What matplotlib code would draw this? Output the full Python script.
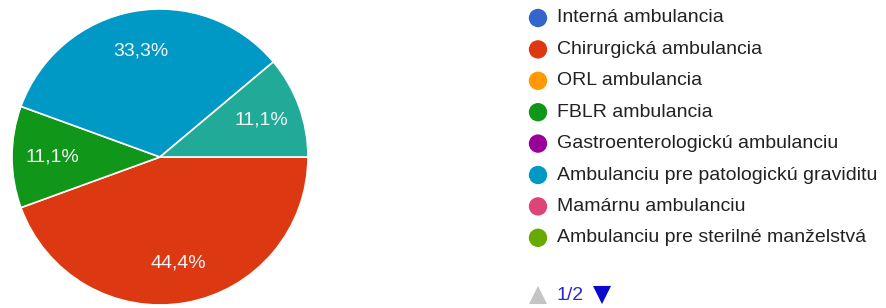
import matplotlib
matplotlib.use("Agg")
import matplotlib.pyplot as plt

plt.rcParams['font.family'] = ['Liberation Sans', 'DejaVu Sans']

categories = ["Interná ambulancia", "Chirurgická ambulancia", "ORL ambulancia",
              "FBLR ambulancia", "Gastroenterologickú ambulanciu",
              "Ambulanciu pre patologickú graviditu", "Mamárnu ambulanciu",
              "Ambulanciu pre sterilné manželstvá", "Iné"]
counts = [0, 4, 0, 1, 0, 3, 0, 0, 1]
colors = ["#3366cc", "#dc3912", "#ff9900", "#109618", "#990099",
          "#0099c6", "#dd4477", "#66aa00", "#22aa99"]
legend_shown = 8
page_label = "1/2"

W, H = 887, 308
fig = plt.figure(figsize=(W / 100, H / 100), dpi=100)

# pie
cx, cy, r = 160, 157, 148
ax = fig.add_axes([(cx - r) / W, (H - cy - r) / H, 2 * r / W, 2 * r / H])
vals = [v for v in counts if v > 0]
cols = [c for v, c in zip(counts, colors) if v > 0]
wedges, texts, autotexts = ax.pie(
    vals, colors=cols, startangle=0, counterclock=False, radius=1,
    autopct=lambda p: f"{p:.1f}%".replace('.', ','), pctdistance=0.73,
    wedgeprops=dict(edgecolor="white", linewidth=1.2),
    textprops=dict(color="#f4f4f4", fontsize=14))
ax.set_xlim(-1, 1)
ax.set_ylim(-1, 1)
ax.set_aspect('auto')
ax.axis('off')

# legend
lax = fig.add_axes([0, 0, 1, 1])
lax.set_xlim(0, W)
lax.set_ylim(H, 0)
lax.axis('off')
y0, dy = 18, 31.4
for i in range(legend_shown):
    y = y0 + i * dy
    lax.scatter([538], [y], s=175, color=colors[i], edgecolors='none')
    lax.text(557, y, categories[i], fontsize=14, color="#222222",
             va='center', ha='left')

yp = 295
lax.scatter([538], [yp], marker='^', s=170, color="#c4c4c4", edgecolors='none')
lax.text(557, yp, page_label, fontsize=14, color="#2a2acc", va='center', ha='left')
lax.scatter([602], [yp], marker='v', s=170, color="#0a0acc", edgecolors='none')

fig.savefig("out.png", dpi=100)
